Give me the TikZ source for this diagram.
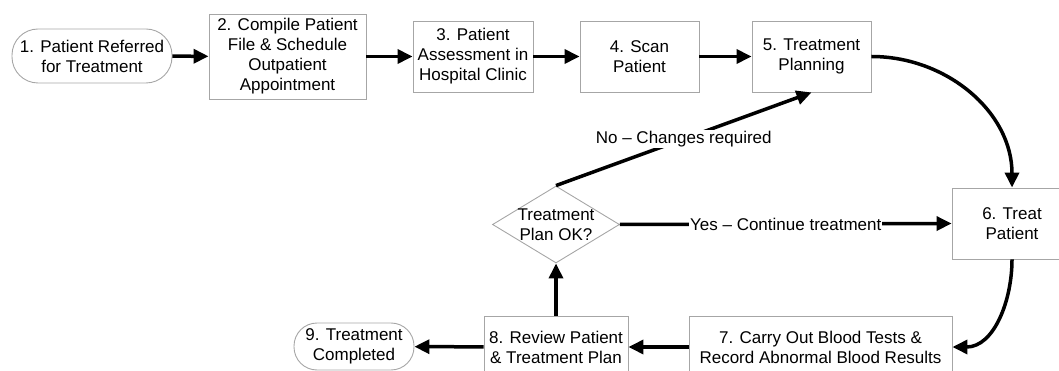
\documentclass[tikz,border=0pt]{standalone}
\usepackage{fontspec}
\setmainfont{Liberation Sans}
\usetikzlibrary{positioning,arrows.meta,shapes.geometric}
\definecolor{cGray}{HTML}{A6A6A6}
\tikzset{
	procbox/.style={draw=cGray, line width=0.9pt, align=center, inner sep=0pt, minimum height=71pt},
	termbox/.style={draw=cGray, line width=0.9pt, align=center, inner sep=0pt, rounded corners=#1},
	decbox/.style={draw=cGray, line width=0.9pt, diamond, aspect=1.65, align=center, inner sep=-4pt,
		minimum width=127pt, minimum height=77pt},
	arr/.style={-{Triangle[length=15pt,width=14pt]}, line width=3.5pt, color=black},
	lbl/.style={fill=white, inner sep=1pt, midway},
}

\begin{document}
\begin{tikzpicture}[x=1pt, y=-1pt, font=\fontsize{17}{20}\selectfont]
				\useasboundingbox (0,0) rectangle (1059,371);
				\node[termbox=26pt, minimum width=160pt, minimum height=54pt] (n1) at (92,56) {1. Patient Referred\\for Treatment};
				\node[procbox, minimum width=157pt, minimum height=85pt] (n2) at (287.5,56.5) {2. Compile Patient\\File \& Schedule\\Outpatient\\Appointment};
				\node[procbox, minimum width=120pt] (n3) at (473,56.5) {3. Patient\\Assessment in\\Hospital Clinic};
				\node[procbox, minimum width=119pt] (n4) at (639.5,56.5) {4. Scan\\Patient};
				\node[procbox, minimum width=119pt] (n5) at (811.5,56.5) {5. Treatment\\Planning};
				\node[procbox, minimum width=120pt] (n6) at (1012,223.5) {6. Treat\\Patient};
				\node[procbox, minimum width=263pt, minimum height=62pt] (n7) at (820.5,347) {7. Carry Out Blood Tests \&\\Record Abnormal Blood Results};
				\node[procbox, minimum width=144pt, minimum height=62pt] (n8) at (556,347) {8. Review Patient\\\& Treatment Plan};
				\node[termbox=23pt, minimum width=120pt, minimum height=47pt] (n9) at (354,346.5) {9. Treatment\\Completed};
				\node[decbox] (dec) at (556,224.5) {Treatment\\Plan OK?};
				\foreach \a/\b in {n1/n2,n2/n3,n3/n4,n4/n5,n7/n8,n8/n9} \draw[arr] (\a) -- (\b);
				\draw[arr] (n5.east) to[out=0, in=90] (n6.north);
				\draw[arr] (n6.south) to[out=-90, in=0] (n7.east);
				\draw[arr] (n8) -- (dec);
				\draw[arr] (dec.east) -- node[lbl] {Yes – Continue treatment} (n6.west);
				\draw[arr] (dec.north) -- node[lbl] {No – Changes required} (n5.south);
		\end{tikzpicture}
\end{document}
